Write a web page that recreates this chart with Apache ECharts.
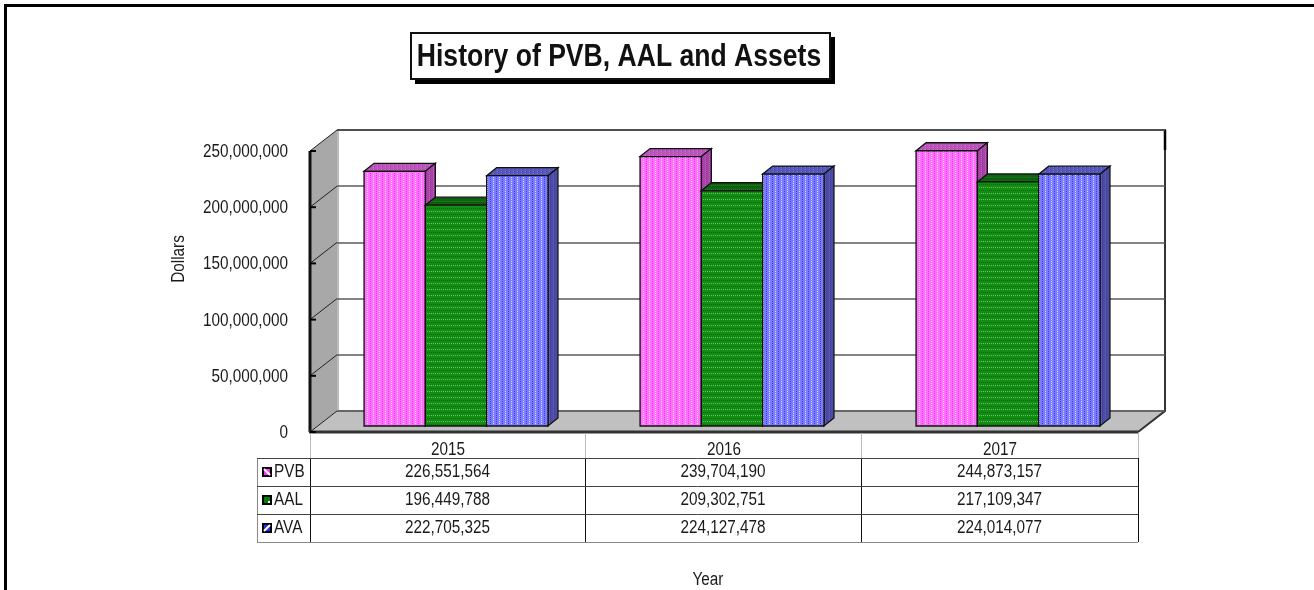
<!DOCTYPE html>
<html>
<head>
<meta charset="utf-8">
<title>History of PVB, AAL and Assets</title>
<style>
html, body { margin: 0; padding: 0; background: #fff; }
#chart { width: 1314px; height: 590px; }
</style>
<script src="https://cdn.jsdelivr.net/npm/echarts@6/dist/echarts.min.js"></script>
</head>
<body>
<div id="chart"></div>
<script>
var years = ['2015', '2016', '2017'];
var seriesNames = ['PVB', 'AAL', 'AVA'];
var pvb = [226551564, 239704190, 244873157];
var aal = [196449788, 209302751, 217109347];
var ava = [222705325, 224127478, 224014077];
var yTicks = [0, 50000000, 100000000, 150000000, 200000000, 250000000];
var allValues = [pvb, aal, ava];

var font = '"Liberation Sans", Arial, sans-serif';
var ink = '#1a1a1a';
// the original text is arial squeezed horizontally
var squeeze = 0.85;

// 3D look: front plane, bar plane and back wall are three grids offset from each other
var frontLeft = 310, frontBottom = 432, plotW = 828, plotH = 281;
var backDx = 27, backDy = 21;
var barDx = 8, barDy = 6;
var depthX = 10, depthY = 8;

// dithered fill, rows or columns of light and dark dots on a base colour
function dither(base, light, dark, w, h, vertical) {
	var c = document.createElement('canvas');
	c.width = w;
	c.height = h;
	var g = c.getContext('2d');
	g.fillStyle = base;
	g.fillRect(0, 0, w, h);
	for (var y = 0; y < h; y++) {
		for (var x = 0; x < w; x++) {
			var k = vertical ? x : y;
			var n = vertical ? w : h;
			if ((x + y) % 2 === 0 && k % n === 1) {
				g.fillStyle = light;
				g.fillRect(x, y, 1, 1);
			} else if ((x + y) % 2 === 1 && k % n === n - 2) {
				g.fillStyle = dark;
				g.fillRect(x, y, 1, 1);
			}
		}
	}
	return { image: c, repeat: 'repeat' };
}

var frontFill = [
	dither('#ff70ff', '#ffd8ff', '#ee33ee', 6, 6, true),
	dither('#128c12', '#70bb70', '#007000', 6, 6, false),
	dither('#7c7cff', '#dcdcff', '#3636f0', 6, 6, true)
];
var topFill = [
	dither('#bb55bb', '#cc77cc', '#aa44aa', 4, 4, true),
	dither('#0f640f', '#2a7a2a', '#0a500a', 4, 4, false),
	dither('#5656bb', '#7777cc', '#4444aa', 4, 4, true)
];
var sideFill = [
	dither('#a844a8', '#bb66bb', '#993399', 4, 4, true),
	dither('#0a4a0a', '#1f5f1f', '#083c08', 4, 4, false),
	dither('#4c4ca8', '#6666bb', '#3c3c99', 4, 4, true)
];
var keyFill = ['#ff33ff', '#008000', '#2233ff'];

function squeezed(str, x, y, align, size, rotation) {
	return {
		type: 'text',
		x: x,
		y: y,
		scaleX: squeeze,
		rotation: rotation || 0,
		style: {
			text: str,
			font: (size || 18) + 'px ' + font,
			fill: ink,
			align: align,
			verticalAlign: 'middle'
		}
	};
}

function renderBar(params, api) {
	var cat = api.value(0);
	var s = api.value(2);
	var barW = 61.3;
	var center = api.coord([cat, 0])[0];
	var left = center - barW * 1.5 + s * barW;
	var right = left + barW;
	var top = api.coord([cat, api.value(1)])[1];
	var bottom = api.coord([cat, 0])[1];
	var line = { stroke: '#111', lineWidth: 1.3 };
	return {
		type: 'group',
		children: [{
			type: 'polygon',
			shape: { points: [[left, top], [left + depthX, top - depthY], [right + depthX, top - depthY], [right, top]] },
			style: Object.assign({ fill: topFill[s] }, line)
		}, {
			type: 'polygon',
			shape: { points: [[right, top], [right + depthX, top - depthY], [right + depthX, bottom - depthY], [right, bottom]] },
			style: Object.assign({ fill: sideFill[s] }, line)
		}, {
			type: 'rect',
			shape: { x: left, y: top, width: barW, height: bottom - top },
			style: Object.assign({ fill: frontFill[s] }, line)
		}]
	};
}

function renderYLabel(params, api) {
	var p = api.coord([0, api.value(1)]);
	return squeezed(fmt(api.value(1)), frontLeft - 22, p[1] + 1, 'right');
}

function renderXLabel(params, api) {
	var p = api.coord([api.value(0), 0]);
	return squeezed(years[api.value(0)], p[0], p[1] + 18, 'center');
}

var barData = [];
for (var s = 0; s < allValues.length; s++) {
	for (var c = 0; c < years.length; c++) {
		barData.push([c, allValues[s][c], s]);
	}
}

function fmt(v) {
	return v.toString().replace(/\B(?=(\d{3})+(?!\d))/g, ',');
}

var fl = frontLeft, fb = frontBottom, ft = frontBottom - plotH, fr = frontLeft + plotW;
var chrome = [
	// left wall
	{ type: 'polygon', shape: { points: [[fl, ft], [fl + backDx, ft - backDy], [fl + backDx, fb - backDy], [fl, fb]] }, style: { fill: '#a8a8a8' } },
	// floor
	{ type: 'polygon', shape: { points: [[fl, fb], [fl + backDx, fb - backDy], [fr + backDx, fb - backDy], [fr, fb]] }, style: { fill: '#c0c0c0' } },
	{ type: 'line', shape: { x1: fl + backDx, y1: fb - backDy, x2: fr + backDx, y2: fb - backDy }, style: { stroke: '#8a8a8a', lineWidth: 2 } },
	{ type: 'line', shape: { x1: fl + backDx + 1, y1: ft - backDy, x2: fl + backDx + 1, y2: fb - backDy }, style: { stroke: '#bbb', lineWidth: 2 } },
	// back wall top and right edge
	{ type: 'polyline', shape: { points: [[fl + backDx, ft - backDy], [fr + backDx, ft - backDy], [fr + backDx, fb - backDy], [fr, fb]] }, style: { fill: null, stroke: '#333', lineWidth: 2 } },
	{ type: 'line', shape: { x1: fr + backDx, y1: ft - backDy, x2: fr + backDx, y2: ft - backDy + 20 }, style: { stroke: '#000', lineWidth: 2.5 } },
	// front axis edges
	{ type: 'line', shape: { x1: fl, y1: ft, x2: fl, y2: fb }, style: { stroke: '#111', lineWidth: 3 } },
	{ type: 'line', shape: { x1: fl - 1, y1: fb, x2: fr, y2: fb }, style: { stroke: '#333', lineWidth: 3 } }
];
yTicks.forEach(function (t) {
	var y = fb - plotH * t / yTicks[yTicks.length - 1];
	chrome.push({ type: 'line', shape: { x1: fl, y1: y, x2: fl + backDx, y2: y - backDy }, style: { stroke: '#222', lineWidth: 1 } });
	chrome.push({ type: 'line', shape: { x1: fl, y1: y, x2: fl + 6, y2: y }, style: { stroke: '#000', lineWidth: 2 } });
});

// data table under the plot
var colX = [257, 310, 585, 861, 1138];
var rowY = [458, 486, 514, 542];
var table = [];
for (var i = 0; i < colX.length; i++) {
	if (i > 0) {
		table.push({ type: 'line', shape: { x1: colX[i] + 0.5, y1: fb + 1, x2: colX[i] + 0.5, y2: rowY[0] }, style: { stroke: '#bbb', lineWidth: 1 } });
	}
	table.push({ type: 'line', shape: { x1: colX[i] + 0.5, y1: rowY[0], x2: colX[i] + 0.5, y2: rowY[3] }, style: { stroke: i === 0 ? '#888' : '#111', lineWidth: 1 } });
}
for (var r = 0; r < rowY.length; r++) {
	table.push({ type: 'line', shape: { x1: colX[0], y1: rowY[r] + 0.5, x2: colX[4], y2: rowY[r] + 0.5 }, style: { stroke: r === 3 ? '#888' : '#444', lineWidth: 1 } });
}
seriesNames.forEach(function (name, row) {
	var midY = (rowY[row] + rowY[row + 1]) / 2;
	table.push({ type: 'rect', shape: { x: 263, y: midY - 4, width: 8, height: 8 }, style: { fill: keyFill[row], stroke: '#000', lineWidth: 2 } });
	if (row === 1) {
		table.push({ type: 'rect', shape: { x: 268, y: midY + 1, width: 2, height: 2 }, style: { fill: '#fff' } });
	} else {
		table.push({ type: 'line', shape: { x1: 264, y1: row === 0 ? midY - 3 : midY + 3, x2: 270, y2: row === 0 ? midY + 3 : midY - 3 }, style: { stroke: '#fff', lineWidth: 2 } });
	}
	table.push(squeezed(name, 274, midY, 'left'));
	allValues[row].forEach(function (v, col) {
		table.push(squeezed(fmt(v), (colX[col + 1] + colX[col + 2]) / 2, midY, 'center'));
	});
});

var titleText = squeezed('History of PVB, AAL and Assets', 619, 57, 'center', 32);
titleText.scaleX = 0.83;
titleText.style.font = 'bold 32px ' + font;
titleText.style.fill = '#111';

var myChart = echarts.init(document.getElementById('chart'));

var option = {
	animation: false,
	backgroundColor: '#fff',
	grid: [
		{ left: frontLeft, top: ft, width: plotW, height: plotH },
		{ left: frontLeft + backDx, top: ft - backDy, width: plotW, height: plotH },
		{ left: frontLeft + barDx, top: ft - barDy, width: plotW, height: plotH }
	],
	xAxis: [{
		gridIndex: 0, type: 'category', data: years, show: false
	}, {
		gridIndex: 1, type: 'category', data: years, show: false
	}, {
		gridIndex: 2, type: 'category', data: years, show: false
	}],
	yAxis: [{
		gridIndex: 0, type: 'value', min: 0, max: 250000000, interval: 50000000, show: false
	}, {
		gridIndex: 1,
		type: 'value',
		min: 0,
		max: 250000000,
		interval: 50000000,
		axisLine: { show: false },
		axisTick: { show: false },
		axisLabel: { show: false },
		splitLine: { show: true, lineStyle: { color: '#5a5a5a', width: 1.6 } }
	}, {
		gridIndex: 2, type: 'value', min: 0, max: 250000000, interval: 50000000, show: false
	}],
	series: [{
		type: 'custom',
		name: 'bars',
		xAxisIndex: 2,
		yAxisIndex: 2,
		renderItem: renderBar,
		encode: { x: 0, y: 1 },
		data: barData,
		z: 5,
		clip: false
	}, {
		type: 'custom',
		name: 'yLabels',
		xAxisIndex: 0,
		yAxisIndex: 0,
		renderItem: renderYLabel,
		encode: { x: 0, y: 1 },
		data: yTicks.map(function (t) { return [0, t]; }),
		clip: false
	}, {
		type: 'custom',
		name: 'xLabels',
		xAxisIndex: 0,
		yAxisIndex: 0,
		renderItem: renderXLabel,
		encode: { x: 0, y: 1 },
		data: years.map(function (y, idx) { return [idx, 0]; }),
		clip: false
	}],
	graphic: [{
		type: 'group', z: -1, silent: true, children: chrome
	}, {
		type: 'group', silent: true, children: table
	}, {
		// outer frame, runs off the right and bottom of the picture
		type: 'polyline',
		silent: true,
		shape: { points: [[5.5, 590], [5.5, 5.5], [1314, 5.5]] },
		style: { fill: null, stroke: '#000', lineWidth: 3 }
	}, {
		type: 'group',
		silent: true,
		children: [
			{ type: 'rect', shape: { x: 415, y: 37, width: 420, height: 47 }, style: { fill: '#000' } },
			{ type: 'rect', shape: { x: 411, y: 33, width: 419, height: 46 }, style: { fill: '#fff', stroke: '#111', lineWidth: 2 } },
			titleText
		]
	}, {
		type: 'group',
		silent: true,
		children: [
			squeezed('Dollars', 179, 259, 'center', 18, Math.PI / 2),
			squeezed('Year', 708, 580, 'center')
		]
	}]
};

myChart.setOption(option);
</script>
</body>
</html>
